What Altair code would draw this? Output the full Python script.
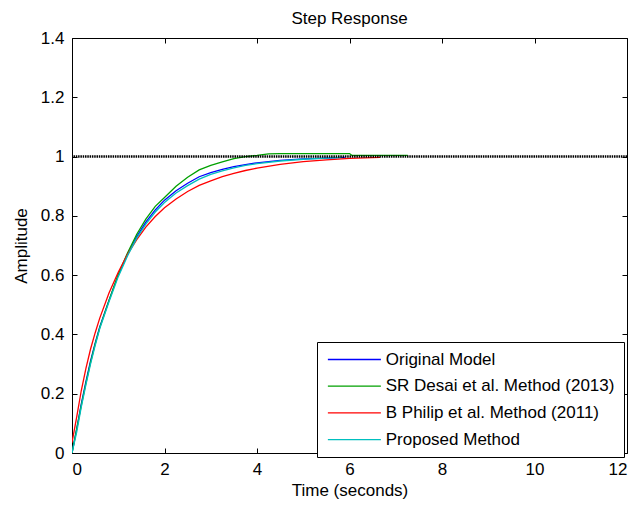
import altair as alt
import pandas as pd

FONT = "Liberation Sans"

series_names = ["Original Model", "SR Desai et al. Method (2013)",
                "B Philip et al. Method (2011)", "Proposed Method"]
series_colors = ["#0000ff", "#00a000", "#ff0000", "#00bfbf"]

# Original model
t_orig = [0, 0.1, 0.2, 0.3, 0.4, 0.5, 0.6, 0.8, 1.0, 1.2, 1.4, 1.6, 1.8, 2.0,
          2.25, 2.5, 2.75, 3.0, 3.25, 3.5, 3.75, 4.0, 4.5, 5.0, 5.5, 5.9]
y_orig = [0, 0.08, 0.165, 0.24, 0.31, 0.37, 0.425, 0.515, 0.6, 0.67, 0.73, 0.78,
          0.82, 0.853, 0.885, 0.91, 0.932, 0.946, 0.957, 0.966, 0.973, 0.979,
          0.987, 0.992, 0.995, 0.997]

# SR Desai et al. (2013)
t_desai = [0, 0.1, 0.2, 0.3, 0.4, 0.5, 0.6, 0.8, 1.0, 1.2, 1.4, 1.6, 1.8, 2.0,
           2.25, 2.5, 2.75, 3.0, 3.25, 3.5, 3.75, 4.0, 4.25, 4.5, 5.0, 5.5, 6.0,
           6.05, 6.5, 7.0, 7.26]
y_desai = [0, 0.08, 0.16, 0.235, 0.305, 0.367, 0.423, 0.515, 0.602, 0.675, 0.738,
           0.79, 0.832, 0.862, 0.9, 0.93, 0.955, 0.97, 0.982, 0.993, 1.0, 1.004,
           1.009, 1.01, 1.01, 1.01, 1.01, 1.004, 1.004, 1.004, 1.004]

# B Philip et al. (2011)
t_philip = [0, 0.1, 0.2, 0.3, 0.4, 0.5, 0.6, 0.8, 1.0, 1.2, 1.4, 1.6, 1.8, 2.0,
            2.25, 2.5, 2.75, 3.0, 3.25, 3.5, 3.75, 4.0, 4.5, 5.0, 5.5, 6.0, 6.66]
y_philip = [0.035, 0.12, 0.21, 0.285, 0.35, 0.405, 0.455, 0.54, 0.61, 0.67, 0.72,
            0.763, 0.798, 0.827, 0.857, 0.882, 0.903, 0.918, 0.932, 0.943, 0.953,
            0.961, 0.974, 0.983, 0.989, 0.994, 0.997]

# Proposed method
t_prop = [0, 0.1, 0.2, 0.3, 0.4, 0.5, 0.6, 0.8, 1.0, 1.2, 1.4, 1.6, 1.8, 2.0,
          2.25, 2.5, 2.75, 3.0, 3.25, 3.5, 3.75, 4.0, 4.5, 5.0, 5.5, 5.83]
y_prop = [0, 0.07, 0.155, 0.23, 0.30, 0.362, 0.42, 0.51, 0.595, 0.665, 0.725,
          0.773, 0.813, 0.845, 0.877, 0.902, 0.924, 0.94, 0.952, 0.962, 0.97,
          0.976, 0.985, 0.991, 0.995, 0.997]

steady_value = [1.0]
x_ticks = [0, 2, 4, 6, 8, 10, 12]
y_ticks = [0, 0.2, 0.4, 0.6, 0.8, 1.0, 1.2, 1.4]

rows = []
for name, ts, ys in zip(series_names,
                        [t_orig, t_desai, t_philip, t_prop],
                        [y_orig, y_desai, y_philip, y_prop]):
    for t, y in zip(ts, ys):
        rows.append({"t": t, "y": y, "series": name})
df = pd.DataFrame(rows)
df_steady = pd.DataFrame({"y": steady_value})

x_scale = alt.Scale(domain=[0, 12], nice=False, zero=False)
y_scale = alt.Scale(domain=[0, 1.4], nice=False, zero=False)

common_axis = dict(grid=False, domain=False, tickColor="black", tickSize=5,
                   offset=-5, labelColor="black", labelFont=FONT,
                   labelFontSize=17, titleFont=FONT, titleFontSize=17,
                   titleColor="black", titleFontWeight="normal", format="~g")

lines = alt.Chart(df).mark_line(strokeWidth=1.3, clip=True).encode(
    x=alt.X("t:Q", scale=x_scale,
            axis=alt.Axis(orient="bottom", values=x_ticks, title="Time (seconds)",
                          labelPadding=8, titleBaseline="alphabetic",
                          titleY=47, **common_axis)),
    y=alt.Y("y:Q", scale=y_scale,
            axis=alt.Axis(orient="left", values=y_ticks, title="Amplitude",
                          labelPadding=8, titleBaseline="alphabetic",
                          titleX=-51, titleAngle=270, **common_axis)),
    color=alt.Color("series:N",
                    scale=alt.Scale(domain=series_names, range=series_colors),
                    sort=series_names,
                    legend=alt.Legend(title=None, orient="none", legendX=245,
                                      legendY=304, direction="vertical",
                                      symbolType="M-1,0H7", symbolSize=175.6,
                                      symbolStrokeWidth=1.3, labelFont=FONT,
                                      labelFontSize=17, labelColor="black",
                                      labelLimit=0, labelOffset=42.75,
                                      rowPadding=8.7, padding=9,
                                      strokeColor="black", fillColor="white")),
)

steady = alt.Chart(df_steady).mark_rule(color="black", strokeWidth=2.4,
                                         strokeDash=[1.5, 0.8]).encode(
    y=alt.Y("y:Q", scale=y_scale, axis=None)
)

frame = alt.Chart(df).mark_point(opacity=0).encode(
    x=alt.X("t:Q", scale=x_scale,
            axis=alt.Axis(orient="top", values=x_ticks, labels=False, title=None,
                          **common_axis)),
    y=alt.Y("y:Q", scale=y_scale,
            axis=alt.Axis(orient="right", values=y_ticks, labels=False, title=None,
                          **common_axis)),
)

chart = alt.layer(lines, steady, frame).resolve_axis(
    x="independent", y="independent"
).properties(
    width=555, height=415,
    title=alt.TitleParams("Step Response", font=FONT, fontSize=17,
                          fontWeight="normal", color="black", anchor="middle",
                          frame="group", offset=10, dy=9),
    autosize=alt.AutoSizeParams(type="none"),
    padding={"left": 64, "top": 30, "right": 9, "bottom": 47},
).configure_view(stroke="black", strokeWidth=1)

chart.save("out.html", embed_options={"renderer": "svg", "actions": False})
